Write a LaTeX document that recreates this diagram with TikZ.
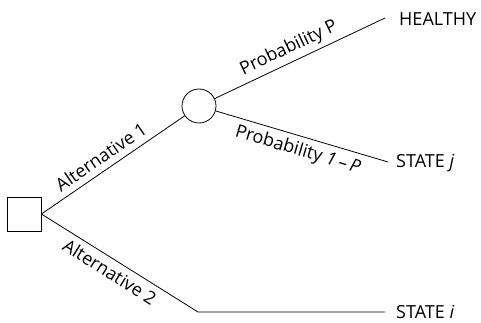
\documentclass[tikz,border=0pt]{standalone}
\usepackage{fontspec}
\setmainfont{Open Sans}
\begin{document}
\begin{tikzpicture}[x=1pt,y=-1pt,
  every node/.style={font=\fontsize{18}{20}\selectfont},
  ln/.style={draw=black,line width=0.8pt},
  lbl/.style={inner sep=0pt}]
\useasboundingbox (0,0) rectangle (481,323);
\node[ln,minimum size=34pt,inner sep=0pt] (dec) at (24,214) {};
\node[ln,circle,minimum size=34pt,inner sep=0pt] (ch) at (199,106) {};
\node[lbl,anchor=west] (h) at (399,19) {HEALTHY};
\node[lbl,anchor=west] (sj) at (396,163) {STATE \textit{j}};
\node[lbl,anchor=west] (si) at (396,312) {STATE \textit{i}};
\coordinate (hE) at (385,18);
\coordinate (sjE) at (388,162);
\coordinate (siE) at (385,312);
\coordinate (bend) at (198,312);
\draw[ln] (dec.east) -- (ch) node[pos=0.47,sloped,above=3pt] {Alternative 1};
\draw[ln] (ch) -- (hE) node[pos=0.47,sloped,above=1pt] {Probability P};
\draw[ln] (ch) -- (sjE) node[pos=0.5,sloped,below=2pt] {Probability \textit{1\,–\,P}};
\draw[ln] (dec.east) -- (bend) node[pos=0.48,sloped,below=2pt] {Alternative 2} -- (siE);
\end{tikzpicture}
\end{document}
